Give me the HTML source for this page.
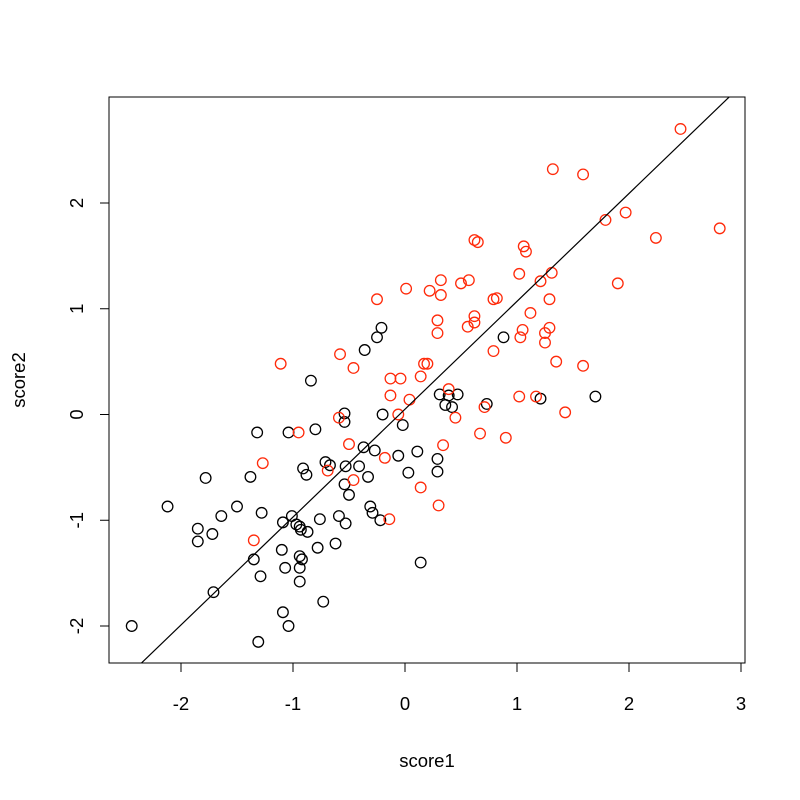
<!DOCTYPE html>
<html><head><meta charset="utf-8"><style>
html,body{margin:0;padding:0;background:#fff;}
svg{display:block;font-family:"Liberation Sans",Arial,sans-serif;}
</style></head><body>
<svg id="chart" width="800" height="800" viewBox="0 0 800 800" xmlns="http://www.w3.org/2000/svg"></svg>
<script>
const xTicks=[-2,-1,0,1,2,3];
const yTicks=[-2,-1,0,1,2];
const redX=[2.46,1.32,1.59,1.79,1.97,2.24,2.81,1.90,1.06,1.08,1.02,1.21,1.31,0.62,0.65,0.32,0.01,0.32,0.50,0.22,0.57,0.79,0.82,1.29,1.12,1.03,1.05,1.29,1.25,1.25,0.29,0.29,0.62,0.62,0.56,-0.25,-0.58,-0.46,0.17,0.20,0.14,-0.13,-0.04,0.79,1.59,1.35,1.02,1.17,1.43,0.39,0.71,0.45,0.04,-0.13,-0.06,-1.11,-0.95,-1.27,-0.59,-0.50,-0.46,-0.69,-0.18,-0.14,0.14,0.30,0.34,0.90,0.67,-1.35];
const redY=[2.70,2.32,2.27,1.84,1.91,1.67,1.76,1.24,1.59,1.54,1.33,1.26,1.34,1.65,1.63,1.27,1.19,1.13,1.24,1.17,1.27,1.09,1.10,1.09,0.96,0.73,0.80,0.82,0.68,0.77,0.89,0.77,0.93,0.87,0.83,1.09,0.57,0.44,0.48,0.48,0.36,0.34,0.34,0.60,0.46,0.50,0.17,0.17,0.02,0.24,0.07,-0.03,0.14,0.18,0.00,0.48,-0.17,-0.46,-0.03,-0.28,-0.62,-0.53,-0.41,-0.99,-0.69,-0.86,-0.29,-0.22,-0.18,-1.19];
const blackX=[-2.12,-1.78,-1.50,-1.38,-1.64,-1.72,-1.85,-1.85,-1.32,-1.28,-1.04,-0.91,-0.88,-0.84,-0.80,-0.71,-0.67,-0.54,-0.54,-0.53,-0.50,-0.54,-0.36,-0.25,-0.21,-0.37,-0.27,-0.20,-0.33,-0.31,-0.29,-0.22,-0.02,-0.06,0.03,0.11,0.31,0.36,0.42,0.39,0.47,0.73,0.88,1.70,1.21,0.29,0.29,0.14,-0.41,-1.01,-0.97,-0.94,-0.93,-0.87,-0.76,-0.94,-0.92,-0.94,-0.94,-0.78,-0.62,-0.59,-0.53,-1.09,-1.10,-1.35,-1.71,-1.29,-1.07,-1.09,-1.04,-1.31,-0.73,-2.44];
const blackY=[-0.87,-0.60,-0.87,-0.59,-0.96,-1.13,-1.08,-1.20,-0.17,-0.93,-0.17,-0.51,-0.57,0.32,-0.14,-0.45,-0.48,0.01,-0.07,-0.49,-0.76,-0.66,0.61,0.73,0.82,-0.31,-0.34,0.00,-0.59,-0.87,-0.93,-1.00,-0.10,-0.39,-0.55,-0.35,0.19,0.09,0.07,0.18,0.19,0.10,0.73,0.17,0.15,-0.42,-0.54,-1.40,-0.49,-0.96,-1.04,-1.06,-1.09,-1.11,-0.99,-1.34,-1.37,-1.58,-1.45,-1.26,-1.22,-0.96,-1.03,-1.02,-1.28,-1.37,-1.68,-1.53,-1.45,-1.87,-2.00,-2.15,-1.77,-2.00];
const lineIntercept=0.05, lineSlope=1.02;

const svg=document.getElementById('chart');
const NS='http://www.w3.org/2000/svg';
const L=109,R=745,T=97,B=663;
const FS=18.5;
const sx=v=>405+v*112;
const sy=v=>414.5-v*105.75;
function mk(tag,attrs,parent){const e=document.createElementNS(NS,tag);for(const k in attrs)e.setAttribute(k,attrs[k]);(parent||svg).appendChild(e);return e;}

const box=mk('rect',{x:L,y:T,width:R-L,height:B-T,fill:'none',stroke:'#000','stroke-width':1});



const xAxis=mk('g',{});


mk('line',{x1:sx(xTicks[0]),x2:sx(xTicks[xTicks.length-1]),y1:B,y2:B,stroke:'#000'},xAxis);
xTicks.forEach(t=>{
  mk('line',{x1:sx(t),x2:sx(t),y1:B,y2:B+9,stroke:'#000'},xAxis);
  const tx=mk('text',{x:sx(t),y:B+47,'text-anchor':'middle','font-size':FS},xAxis);
  tx.textContent=t;
  
  
});
const yAxis=mk('g',{});


mk('line',{x1:L,x2:L,y1:sy(yTicks[0]),y2:sy(yTicks[yTicks.length-1]),stroke:'#000'},yAxis);
yTicks.forEach(t=>{
  mk('line',{x1:L-9,x2:L,y1:sy(t),y2:sy(t),stroke:'#000'},yAxis);
  const tx=mk('text',{x:0,y:0,'text-anchor':'middle','font-size':FS,transform:`translate(${L-26},${sy(t)}) rotate(-90)`},yAxis);
  tx.textContent=t;
  
  
});
const xt=mk('text',{x:427,y:767,'text-anchor':'middle','font-size':FS});
xt.textContent='score1';


const yt=mk('text',{x:0,y:0,'text-anchor':'middle','font-size':FS,transform:`translate(25,380) rotate(-90)`});
yt.textContent='score2';



const clip=mk('clipPath',{id:'pc'});
mk('rect',{x:L,y:T,width:R-L,height:B-T},clip);
const pts=mk('g',{});


function drawSeries(xs,ys,color,name){
  xs.forEach((x,i)=>{
    const c=mk('circle',{cx:sx(x),cy:sy(ys[i]),r:5.3,fill:'none',stroke:color,'stroke-width':1.3},pts);
    
    
  });
}
drawSeries(blackX,blackY,'#000','point-black');
drawSeries(redX,redY,'#ff2a0a','point-red');

const x0=-3,x1=3.5;
const ln=mk('line',{x1:sx(x0),y1:sy(lineIntercept+lineSlope*x0),x2:sx(x1),y2:sy(lineIntercept+lineSlope*x1),stroke:'#000','stroke-width':1.2,'clip-path':'url(#pc)'});


</script>
</body></html>
